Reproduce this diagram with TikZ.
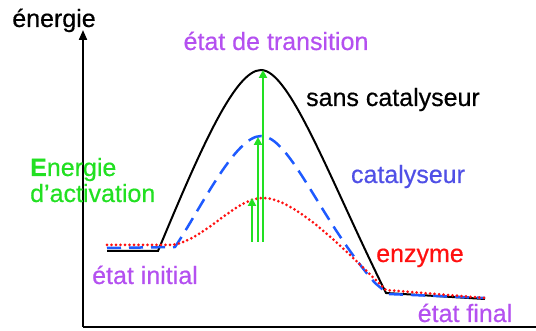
\documentclass[tikz,border=0pt]{standalone}
\usepackage{fontspec}
\setmainfont{Liberation Sans}
\newfontfamily\etiq{Liberation Sans}[FakeBold=0.5]
\usepackage{tikz}
\usetikzlibrary{arrows.meta,positioning}
\definecolor{violet}{HTML}{B450F0}
\definecolor{bleucat}{HTML}{5050E6}
\definecolor{bleuligne}{HTML}{1E5AFF}
\definecolor{vert}{HTML}{22E022}
\definecolor{rouge}{HTML}{FF1010}

\begin{document}
\begin{tikzpicture}[x=1pt,y=1pt,font=\etiq\fontsize{25}{27}\selectfont,
  lbl/.style={inner sep=0pt,anchor=base},
  axe/.style={line width=2pt,black},
  sans/.style={line width=2pt,black},
  cat/.style={line width=2.5pt,bleuligne,dash pattern=on 14pt off 8pt},
  enz/.style={line width=3pt,rouge,line cap=round,dash pattern=on 0pt off 4.5pt},
  varr/.style={-{Triangle[length=8pt,width=8pt]},line width=2pt,vert}]
\useasboundingbox (0,0) rectangle (536,331);
% axes
\coordinate (o) at (83,4);
\coordinate (ytop) at (83,301);
\coordinate (xend) at (536,4);
\draw[axe,-{Triangle[length=10pt,width=8pt]}] (o) -- (ytop);
\draw[axe] (o) -- (xend);
% sommets
\coordinate (p1) at (261,261);
\coordinate (p2) at (261,195);
\coordinate (p3) at (263,133);
% courbes
\draw[sans] (107,80) -- (158,80) .. controls (200,181) and (235,261) .. (p1)
  .. controls (290,261) and (330,151) .. (386,38) -- (485,32);
\draw[cat] (107,83) -- (175,84) .. controls (200,121) and (235,195) .. (p2)
  .. controls (290,195) and (320,111) .. (375,48) -- (388,37) -- (485,33);
\draw[enz] (107,86) -- (172,86) .. controls (205,91) and (235,133) .. (p3)
  .. controls (295,133) and (345,81) .. (386,41) -- (485,33);
% fleches d'activation
\coordinate (b1) at (252,89);
\coordinate (b2) at (258,89);
\coordinate (b3) at (263,89);
\coordinate (t1) at (252,133);
\coordinate (t2) at (258,194);
\coordinate (t3) at (263,261);
\draw[varr] (b1) -- (t1);
\draw[varr] (b2) -- (t2);
\draw[varr] (b3) -- (t3);
% textes
\node[lbl] (en) at (54,304) {énergie};
\node[lbl,violet] (ts) at (276,281) {état de transition};
\node[lbl] (sc) at (393,225) {sans catalyseur};
\node[lbl,anchor=base west,vert] (ea1) at (30,155) {\textbf{E}nergie};
\node[lbl,anchor=base west,vert] (ea2) at (30,129) {d’activation};
\node[lbl,bleucat] (ca) at (408,148) {catalyseur};
\node[lbl,rouge] (ez) at (420,69) {enzyme};
\node[lbl,violet] (ei) at (145,47) {état initial};
\node[lbl,violet] (ef) at (465,9) {état final};
\end{tikzpicture}
\end{document}
